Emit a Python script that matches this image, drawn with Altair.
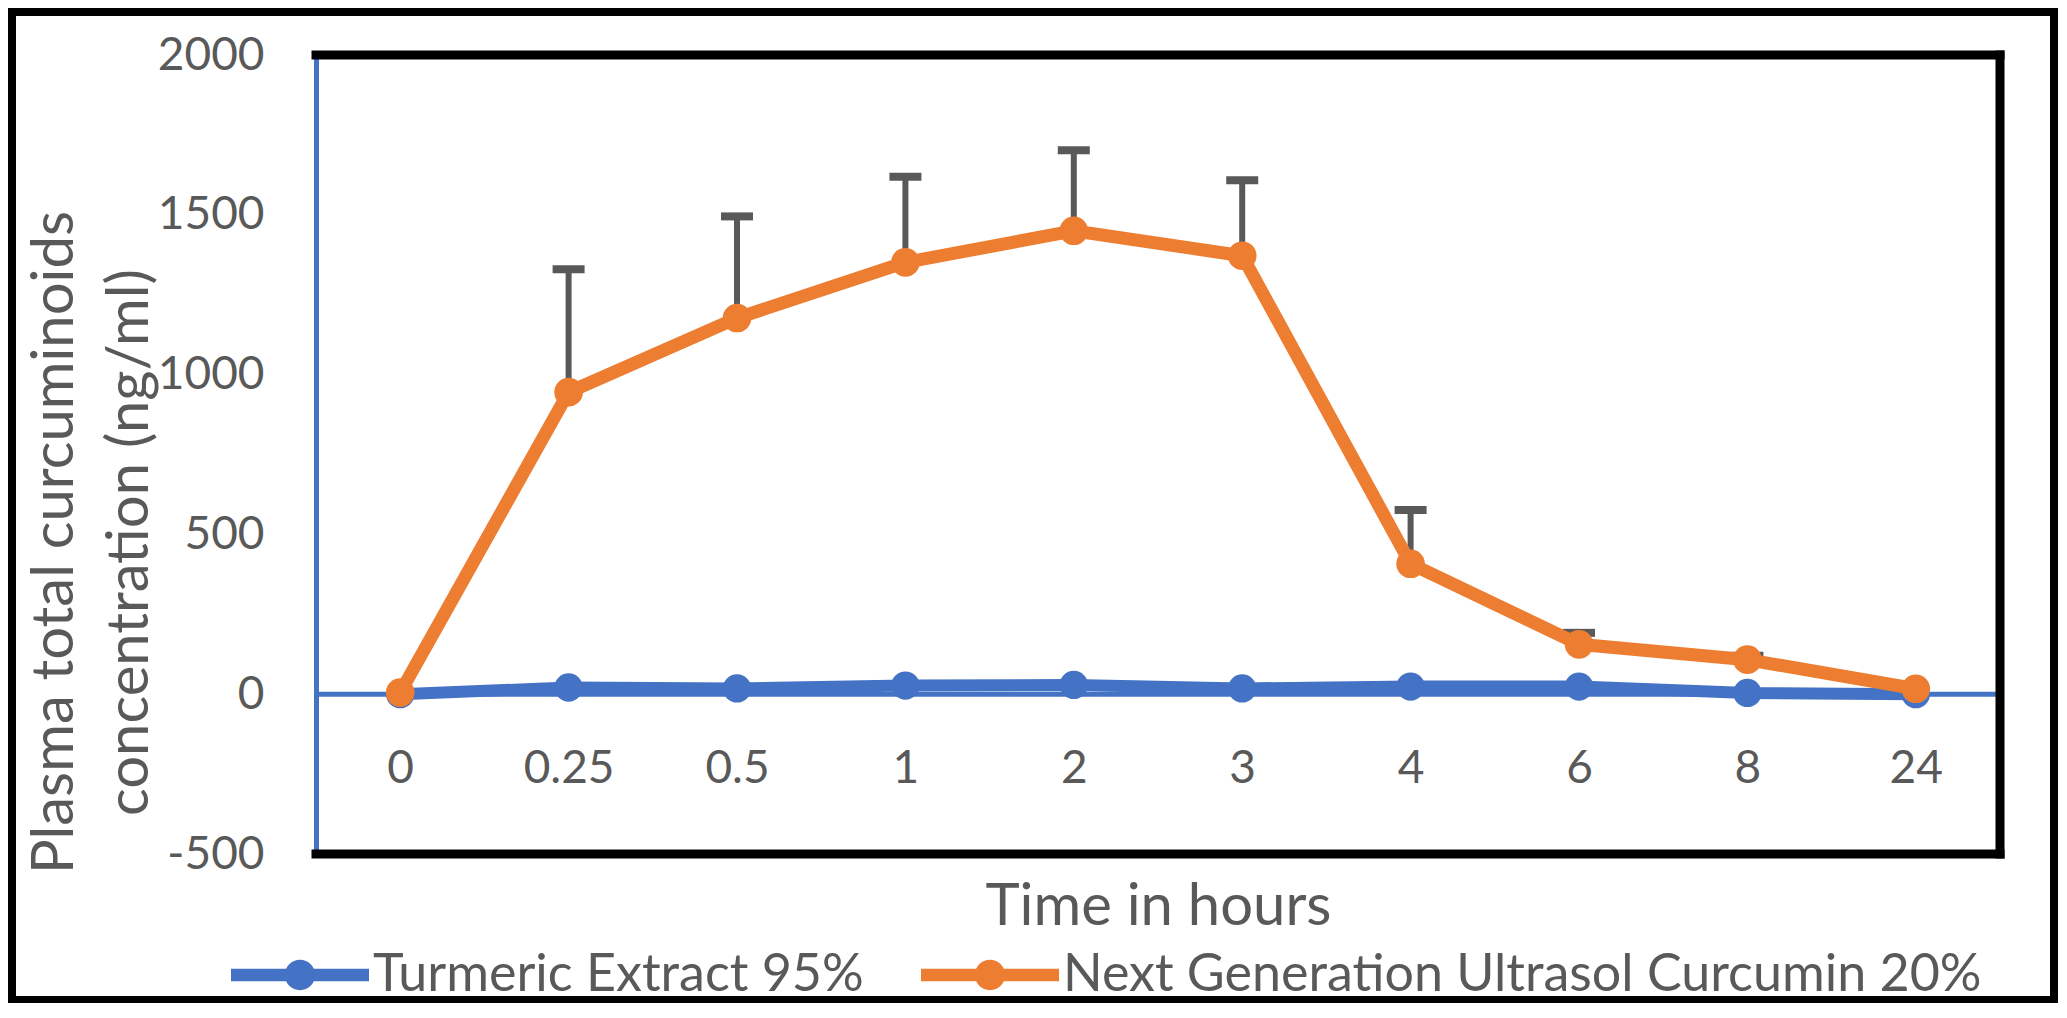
import altair as alt
import pandas as pd

# ---- data ----
times = ["0", "0.25", "0.5", "1", "2", "3", "4", "6", "8", "24"]
turmeric = [0, 21, 18, 27, 29, 18, 24, 24, 4, 0]
ultrasol = [5, 945, 1177, 1351, 1450, 1372, 408, 156, 108, 17]
ultrasol_upper = [None, 1330, 1495, 1619, 1702, 1608, 576, 192, 120, None]

series_names = ["Turmeric Extract 95%", "Next Generation Ultrasol Curcumin 20%"]
series_colors = ["#4472C4", "#ED7D31"]
y_ticks = [-500, 0, 500, 1000, 1500, 2000]

# ---- tables ----
df_t = pd.DataFrame({"time": times, "value": turmeric, "series": series_names[0]})
df_u = pd.DataFrame({"time": times, "value": ultrasol, "series": series_names[1]})
df_err = pd.DataFrame({"time": times, "value": ultrasol, "upper": ultrasol_upper}).dropna()
df_zero = pd.DataFrame({"v": [0]})
df_one = pd.DataFrame({"a": [0]})

W, H = 1684, 799
TXT = "#595959"
FONT = "Lato"

x_enc = alt.X(
    "time:N",
    sort=times,
    scale=alt.Scale(type="point", padding=0.5),
    axis=alt.Axis(
        title="Time in hours",
        domain=False,
        ticks=False,
        tickSize=0,
        labelAngle=0,
        labelPadding=-86,
        labelBaseline="middle",
        labelFontSize=46,
        titleFontSize=58,
        titleY=53,
        titleBaseline="middle",
    ),
)
y_enc = alt.Y(
    "value:Q",
    scale=alt.Scale(domain=[-500, 2000], nice=False, zero=False),
    axis=alt.Axis(
        values=y_ticks,
        labelExpr="'' + datum.value",
        grid=False,
        ticks=False,
        domainColor="#4472C4",
        domainWidth=5,
        labelPadding=52,
        labelFontSize=46,
        title=["Plasma total curcuminoids", "concentration (ng/ml)"],
        titleFontSize=58,
        titleLineHeight=75,
        titleX=-261,
        titleY=487,
        titleAlign="center",
        titleBaseline="middle",
    ),
)

color_scale = alt.Scale(domain=series_names, range=series_colors)
legend_path = ("M-1,-0.09 L1,-0.09 L1,0.09 L-1,0.09 Z "
               "M-0.22,0 A0.22,0.22 0 1,1 0.22,0 A0.22,0.22 0 1,1 -0.22,0 Z")
color_enc = alt.Color(
    "series:N",
    scale=color_scale,
    legend=alt.Legend(
        title=None,
        orient="none",
        direction="horizontal",
        legendX=-85,
        legendY=851,
        symbolType=legend_path,
        symbolSize=138 * 138,
        symbolStrokeWidth=0,
        labelFontSize=52,
        labelColor=TXT,
        labelFont=FONT,
        labelOffset=4,
        labelLimit=1500,
        columnPadding=57,
    ),
)

zero_line = alt.Chart(df_zero).mark_rule(color="#4472C4", strokeWidth=5).encode(
    y=alt.Y("v:Q"), x=alt.value(0), x2=alt.value(W)
)

blue_line = alt.Chart(df_t).mark_line(color="#4472C4", strokeWidth=12).encode(x=x_enc, y=y_enc)
blue_pts = alt.Chart(df_t).mark_point(filled=True, size=800, opacity=1, shape="circle").encode(
    x=x_enc, y=y_enc, color=color_enc
)

err_stem = alt.Chart(df_err).mark_rule(color=TXT, strokeWidth=6).encode(
    x=x_enc, y=alt.Y("value:Q"), y2="upper:Q"
)
err_cap = alt.Chart(df_err).mark_tick(color=TXT, thickness=8, size=32, orient="horizontal", opacity=1).encode(
    x=x_enc, y=alt.Y("upper:Q")
)

orange_line = alt.Chart(df_u).mark_line(color="#ED7D31", strokeWidth=13).encode(x=x_enc, y=y_enc)
orange_pts = alt.Chart(df_u).mark_point(filled=True, size=820, opacity=1, shape="circle").encode(
    x=x_enc, y=y_enc, color=color_enc
)

border_top = alt.Chart(df_one).mark_rule(color="black", strokeWidth=9, strokeCap="square").encode(
    x=alt.value(0), x2=alt.value(W), y=alt.value(0)
)
border_bottom = alt.Chart(df_one).mark_rule(color="black", strokeWidth=9, strokeCap="square").encode(
    x=alt.value(0), x2=alt.value(W), y=alt.value(H)
)
border_right = alt.Chart(df_one).mark_rule(color="black", strokeWidth=9, strokeCap="square").encode(
    x=alt.value(W), y=alt.value(0), y2=alt.value(H)
)
outer = alt.Chart(df_one).mark_rect(fill=None, filled=False, stroke="black", strokeWidth=8).encode(
    x=alt.value(-304), x2=alt.value(1738), y=alt.value(-43), y2=alt.value(945)
)

chart = alt.layer(
    outer, zero_line, blue_line, blue_pts, err_stem, err_cap, orange_line, orange_pts,
    border_top, border_bottom, border_right,
).properties(
    width=W,
    height=H,
    padding={"left": 308, "top": 47, "right": 58, "bottom": 149},
    autosize=alt.AutoSizeParams(type="none"),
).configure(
    font=FONT,
    background="white",
).configure_view(
    stroke=None
).configure_axis(
    labelColor=TXT,
    titleColor=TXT,
    labelFont=FONT,
    titleFont=FONT,
    titleFontWeight="normal",
)

chart.save("out.html", embed_options={"renderer": "svg", "actions": False})
